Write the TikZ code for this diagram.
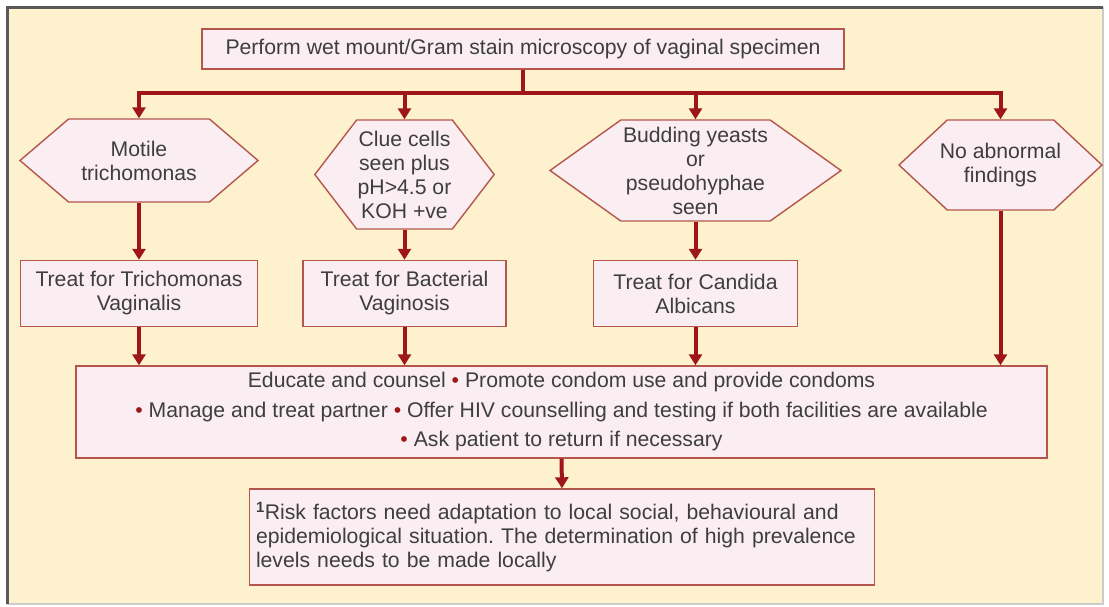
\documentclass[tikz,border=0pt]{standalone}
\usepackage{fontspec}
\setmainfont{Liberation Sans}
\usepackage{tikz}
\usetikzlibrary{shapes.symbols, arrows.meta}
\definecolor{flowred}{RGB}{158,22,24}
\definecolor{boxedge}{RGB}{180,86,76}
\definecolor{boxfill}{RGB}{251,238,243}
\definecolor{cream}{RGB}{254,241,206}
\definecolor{inktext}{RGB}{62,62,62}
\newcommand{\redbullet}{\textcolor{flowred}{\textbullet}}
\frenchspacing

\begin{document}
\begin{tikzpicture}[
            x=1pt, y=-1pt,
            every node/.style={font=\fontsize{21.2}{24}\selectfont, text=inktext},
            box/.style={rectangle, draw=boxedge, fill=boxfill, line width=1.4pt, align=center, inner sep=2pt},
            hexnode/.style={signal, signal to=west and east, draw=boxedge, fill=boxfill, line width=1.4pt, align=center, inner sep=1pt},
            link/.style={draw=flowred, line width=4pt},
            arrow/.style={link, -{Triangle[width=13pt,length=11pt]}}
        ]
        % Frame
        \useasboundingbox (0,0) rectangle (1109,606);
        \fill[white] (0,0) rectangle (1109,606);
        \fill[cream] (7,7) rectangle (1103,604);
        \draw[gray!40, line width=1.5pt] (7,604) -- (1103,604) -- (1103,7);
        \draw[black!65, line width=3pt] (7,604) -- (7,7) -- (1103,7);

        % Examination
        \node[box, minimum width=642pt, minimum height=40pt] (exam) at (523,49) {Perform wet mount/Gram stain microscopy of vaginal specimen};
        \coordinate (split) at (523,93);

        % Findings
        \foreach \i/\x/\y/\w/\h/\ang/\sep/\txt in {1/139/160.5/238/83/81/1/{Motile\\trichomonas},
                2/404.5/174.5/175/109/105/1/{Clue cells\\seen plus\\pH>4.5 or\\KOH +ve},
                3/695.5/170.5/291/101/71/1/{Budding yeasts\\or\\pseudohyphae\\seen},
                4/1000.5/165/203/90/86/-12/{No abnormal\\findings}}
            \node[hexnode, inner xsep=\sep pt, minimum width=\w pt, minimum height=\h pt, signal pointer angle=\ang] (find\i) at (\x,\y) {\txt};

        % Treatments
        \foreach \i/\x/\w/\txt in {1/139/237/{Treat for Trichomonas\\Vaginalis},
                2/404.5/203/{Treat for Bacterial\\Vaginosis},
                3/695.5/204/{Treat for Candida\\Albicans}}
            \node[box, minimum width=\w pt, minimum height=66pt] (treat\i) at (\x,293.5) {\txt};

        % Advice
        \node[box, minimum width=971pt, minimum height=92pt, font=\fontsize{21.2}{29.5}\selectfont] (advice) at (561.5,412)
            {Educate and counsel \redbullet{} Promote condom use and provide condoms\\
             \redbullet{} Manage and treat partner \redbullet{} Offer HIV counselling and testing if both facilities are available\\
             \redbullet{} Ask patient to return if necessary};

        % Footnote
        \node[box, inner xsep=6.3pt, text width=612pt, minimum height=96pt, align=left] (note) at (562,537)
            {\textsuperscript{\bfseries 1}Risk factors need adaptation to local social, behavioural and\\
             epidemiological situation. The determination of high prevalence\\
             levels needs to be made locally};

        % Connections
        \foreach \i in {1,...,4}
            \draw[arrow] (exam.south) -- (split) -| (find\i.north);
        \foreach \i in {1,2,3}
            \draw[arrow] (find\i.south) -- (treat\i.north);
        \foreach \i in {1,2,3}
            \draw[arrow] (treat\i.south) -- (treat\i.south |- advice.north);
        \draw[arrow] (find4.south) -- (find4.south |- advice.north);
        \draw[arrow] (advice.south) -- (note.north);
\end{tikzpicture}
\end{document}
